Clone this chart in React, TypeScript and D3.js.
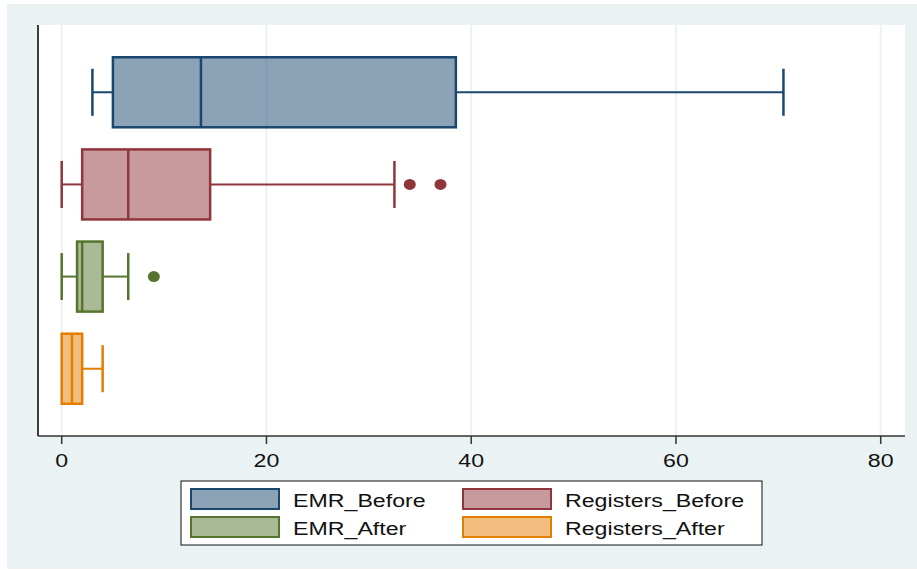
import { useEffect, useRef } from "react";
import * as d3 from "d3";

const categories = ["EMR_Before", "Registers_Before", "EMR_After", "Registers_After"];
const lowerWhisker = [3, 0, 0, 0];
const q1 = [5, 2, 1.5, 0];
const median = [13.6, 6.5, 2, 1];
const q3 = [38.5, 14.5, 4, 2];
const upperWhisker = [70.5, 32.5, 6.5, 4];
const outliers = [[], [34, 37], [9], []];
const xTicks = [0, 20, 40, 60, 80];
const strokeColors = ["#1a476f", "#90353b", "#55752f", "#e37e00"];

export default function App() {
  const refrence = useRef<SVGSVGElement>(null);

  useEffect(() => {
    d3.select(refrence.current).selectAll("*").remove();
    const width = 917;
    const height = 570;
    const svg = d3.select(refrence.current).attr("width", width).attr("height", height);
    const font = "Liberation Sans, Arial, sans-serif";
    const stretch = 1.22; // the reference text is wider than Arial

    const plot = { left: 38, right: 905, top: 25, bottom: 436 };

    svg
      .append("rect")
      .attr("x", 7)
      .attr("y", 4)
      .attr("width", width - 7)
      .attr("height", height - 5)
      .attr("fill", "#eaf2f3");

    svg
      .append("rect")
      .attr("x", plot.left)
      .attr("y", plot.top)
      .attr("width", plot.right - plot.left)
      .attr("height", plot.bottom - plot.top)
      .attr("fill", "white");

    const x = d3.scaleLinear().domain([0, 80]).range([61.7, 880.7]);
    const y = d3
      .scalePoint<string>()
      .domain(categories)
      .range([plot.top, plot.bottom])
      .padding(0.73);
    const step = y.step();
    const boxH = step * 0.76;
    const capH = step * 0.51;

    // grid
    svg
      .selectAll(".grid")
      .data(xTicks)
      .enter()
      .append("line")
      .attr("x1", (d) => x(d))
      .attr("x2", (d) => x(d))
      .attr("y1", plot.top)
      .attr("y2", plot.bottom)
      .attr("stroke", "#eaf2f3")
      .attr("stroke-width", 2);

    // axes
    svg
      .append("line")
      .attr("x1", plot.left)
      .attr("x2", plot.left)
      .attr("y1", plot.top)
      .attr("y2", plot.bottom)
      .attr("stroke", "#000")
      .attr("stroke-width", 1.5);
    svg
      .append("line")
      .attr("x1", plot.left)
      .attr("x2", plot.right)
      .attr("y1", plot.bottom)
      .attr("y2", plot.bottom)
      .attr("stroke", "#333")
      .attr("stroke-width", 1.5);

    const ticks = svg.selectAll(".tick").data(xTicks).enter().append("g");
    ticks
      .append("line")
      .attr("x1", (d) => x(d))
      .attr("x2", (d) => x(d))
      .attr("y1", plot.bottom)
      .attr("y2", plot.bottom + 8)
      .attr("stroke", "#333")
      .attr("stroke-width", 1.5);
    ticks
      .append("text")
      .attr("transform", (d) => `translate(${x(d)},${plot.bottom + 31}) scale(${stretch},1)`)
      .attr("text-anchor", "middle")
      .style("font-family", font)
      .style("font-size", "19px")
      .attr("fill", "#111")
      .text((d) => d);

    // boxes
    categories.forEach((c, i) => {
      const cy = y(c) as number;
      const col = strokeColors[i];
      const g = svg.append("g");
      if (lowerWhisker[i] < q1[i]) {
        g.append("line")
          .attr("x1", x(lowerWhisker[i]))
          .attr("x2", x(q1[i]))
          .attr("y1", cy)
          .attr("y2", cy)
          .attr("stroke", col)
          .attr("stroke-width", 2);
        g.append("line")
          .attr("x1", x(lowerWhisker[i]))
          .attr("x2", x(lowerWhisker[i]))
          .attr("y1", cy - capH / 2)
          .attr("y2", cy + capH / 2)
          .attr("stroke", col)
          .attr("stroke-width", 2.5);
      }
      g.append("line")
        .attr("x1", x(q3[i]))
        .attr("x2", x(upperWhisker[i]))
        .attr("y1", cy)
        .attr("y2", cy)
        .attr("stroke", col)
        .attr("stroke-width", 2);
      g.append("line")
        .attr("x1", x(upperWhisker[i]))
        .attr("x2", x(upperWhisker[i]))
        .attr("y1", cy - capH / 2)
        .attr("y2", cy + capH / 2)
        .attr("stroke", col)
        .attr("stroke-width", 2.5);
      g.append("rect")
        .attr("x", x(q1[i]))
        .attr("y", cy - boxH / 2)
        .attr("width", x(q3[i]) - x(q1[i]))
        .attr("height", boxH)
        .attr("fill", col)
        .attr("fill-opacity", 0.5)
        .attr("stroke", col)
        .attr("stroke-width", 2.5);
      g.append("line")
        .attr("x1", x(median[i]))
        .attr("x2", x(median[i]))
        .attr("y1", cy - boxH / 2)
        .attr("y2", cy + boxH / 2)
        .attr("stroke", col)
        .attr("stroke-width", 2.5);
      g.selectAll("ellipse")
        .data(outliers[i])
        .enter()
        .append("ellipse")
        .attr("cx", (d) => x(d))
        .attr("cy", cy)
        .attr("rx", 6)
        .attr("ry", 5.5)
        .attr("fill", col);
    });

    // legend
    const lg = svg.append("g");
    lg.append("rect")
      .attr("x", 181)
      .attr("y", 481)
      .attr("width", 581)
      .attr("height", 64)
      .attr("fill", "white")
      .attr("stroke", "#111")
      .attr("stroke-width", 1);
    const colX = [191, 463];
    const rowY = [489, 517];
    categories.forEach((c, i) => {
      const cx = colX[i % 2];
      const ry = rowY[Math.floor(i / 2)];
      lg.append("rect")
        .attr("x", cx)
        .attr("y", ry)
        .attr("width", 88)
        .attr("height", 20)
        .attr("fill", strokeColors[i])
        .attr("fill-opacity", 0.5)
        .attr("stroke", strokeColors[i])
        .attr("stroke-width", 2);
      lg.append("text")
        .attr("transform", `translate(${cx + 102},${ry + 18}) scale(${stretch},1)`)
        .style("font-family", font)
        .style("font-size", "19px")
        .attr("fill", "#111")
        .text(c);
    });
  }, []);

  return (
    <svg
      ref={refrence}
      style={{ position: "absolute", left: 0, top: 0, display: "block" }}
    ></svg>
  );
}
